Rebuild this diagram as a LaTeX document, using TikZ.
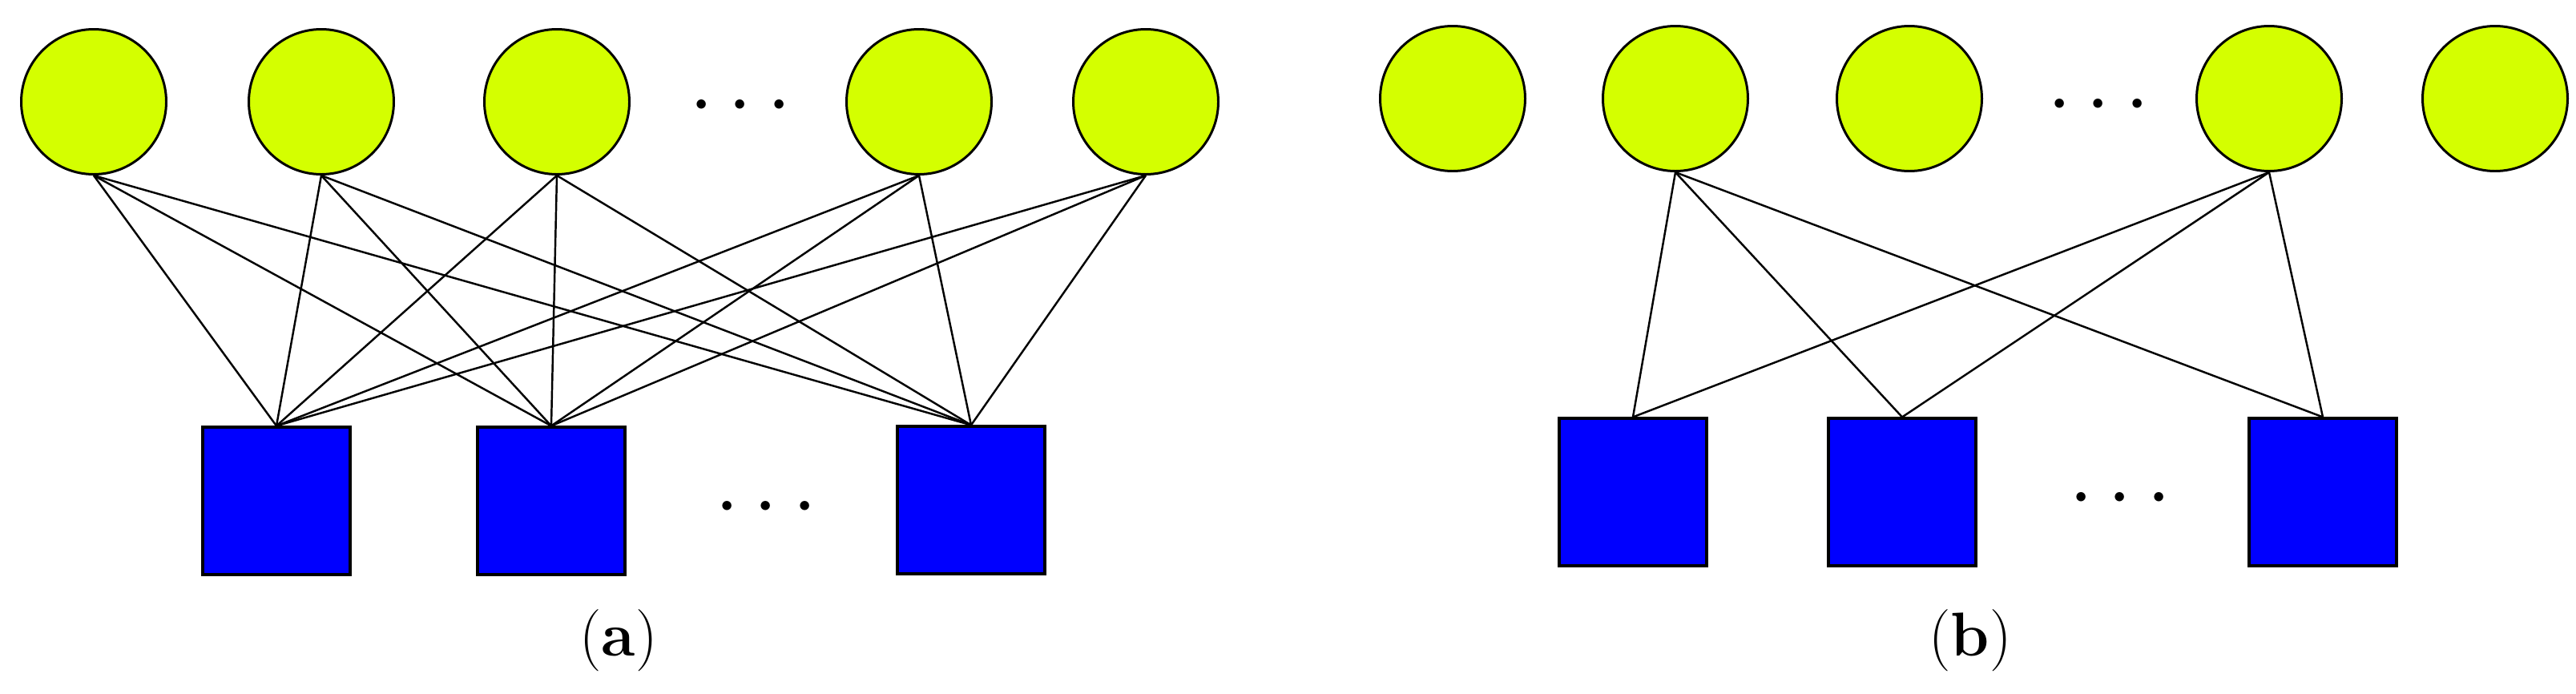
\documentclass[tikz,border=0pt]{standalone}
\usepackage{fix-cm}
\definecolor{lime}{RGB}{212,255,0}
\definecolor{pureblue}{RGB}{0,0,255}
\usetikzlibrary{positioning}
\begin{document}
\begin{tikzpicture}[
    user/.style={circle,draw=black,line width=0.85pt,fill=lime,minimum size=18.1mm,inner sep=0pt},
    server/.style={rectangle,draw=black,line width=0.9pt,fill=pureblue,minimum size=18.4mm,inner sep=0pt},
    dots/.style={inner sep=0pt,font=\fontsize{31}{33}\selectfont},
    caption/.style={font=\fontsize{22}{26}\selectfont},
    link/.style={line width=0.7pt,black}]
    \useasboundingbox (0,0) rectangle (32.15,8.65);
    % (a) full connection
    \node[user] (ua1) at (1.17,7.38) {};
    \node[user] (ua2) at (4.01,7.38) {};
    \node[user] (ua3) at (6.95,7.38) {};
    \node[user] (ua4) at (11.47,7.38) {};
    \node[user] (ua5) at (14.30,7.38) {};
    \node[dots] (uadots) at (9.24,7.32) {$\cdots$};
    \node[server] (sa1) at (3.45,2.40) {};
    \node[server] (sa2) at (6.88,2.40) {};
    \node[server] (sa3) at (12.12,2.41) {};
    \node[dots] (sadots) at (9.56,2.31) {$\cdots$};
    \draw[link] (ua1.south)--(sa1.north); \draw[link] (ua1.south)--(sa2.north); \draw[link] (ua1.south)--(sa3.north);
    \draw[link] (ua2.south)--(sa1.north); \draw[link] (ua2.south)--(sa2.north); \draw[link] (ua2.south)--(sa3.north);
    \draw[link] (ua3.south)--(sa1.north); \draw[link] (ua3.south)--(sa2.north); \draw[link] (ua3.south)--(sa3.north);
    \draw[link] (ua4.south)--(sa1.north); \draw[link] (ua4.south)--(sa2.north); \draw[link] (ua4.south)--(sa3.north);
    \draw[link] (ua5.south)--(sa1.north); \draw[link] (ua5.south)--(sa2.north); \draw[link] (ua5.south)--(sa3.north);
    \node[caption] (capa) at (7.72,0.66) {(\textbf{a})};
    % (b) partial connection
    \node[user] (ub1) at (18.13,7.42) {};
    \node[user] (ub2) at (20.91,7.42) {};
    \node[user] (ub3) at (23.83,7.42) {};
    \node[user] (ub4) at (28.32,7.42) {};
    \node[user] (ub5) at (31.14,7.42) {};
    \node[dots] (ubdots) at (26.19,7.33) {$\cdots$};
    \node[server] (sb1) at (20.38,2.51) {};
    \node[server] (sb2) at (23.74,2.51) {};
    \node[server] (sb3) at (28.99,2.51) {};
    \node[dots] (sbdots) at (26.46,2.42) {$\cdots$};
    \draw[link] (ub2.south)--(sb1.north); \draw[link] (ub2.south)--(sb2.north); \draw[link] (ub2.south)--(sb3.north);
    \draw[link] (ub4.south)--(sb1.north); \draw[link] (ub4.south)--(sb2.north); \draw[link] (ub4.south)--(sb3.north);
    \node[caption] (capb) at (24.59,0.66) {(\textbf{b})};
\end{tikzpicture}
\end{document}
